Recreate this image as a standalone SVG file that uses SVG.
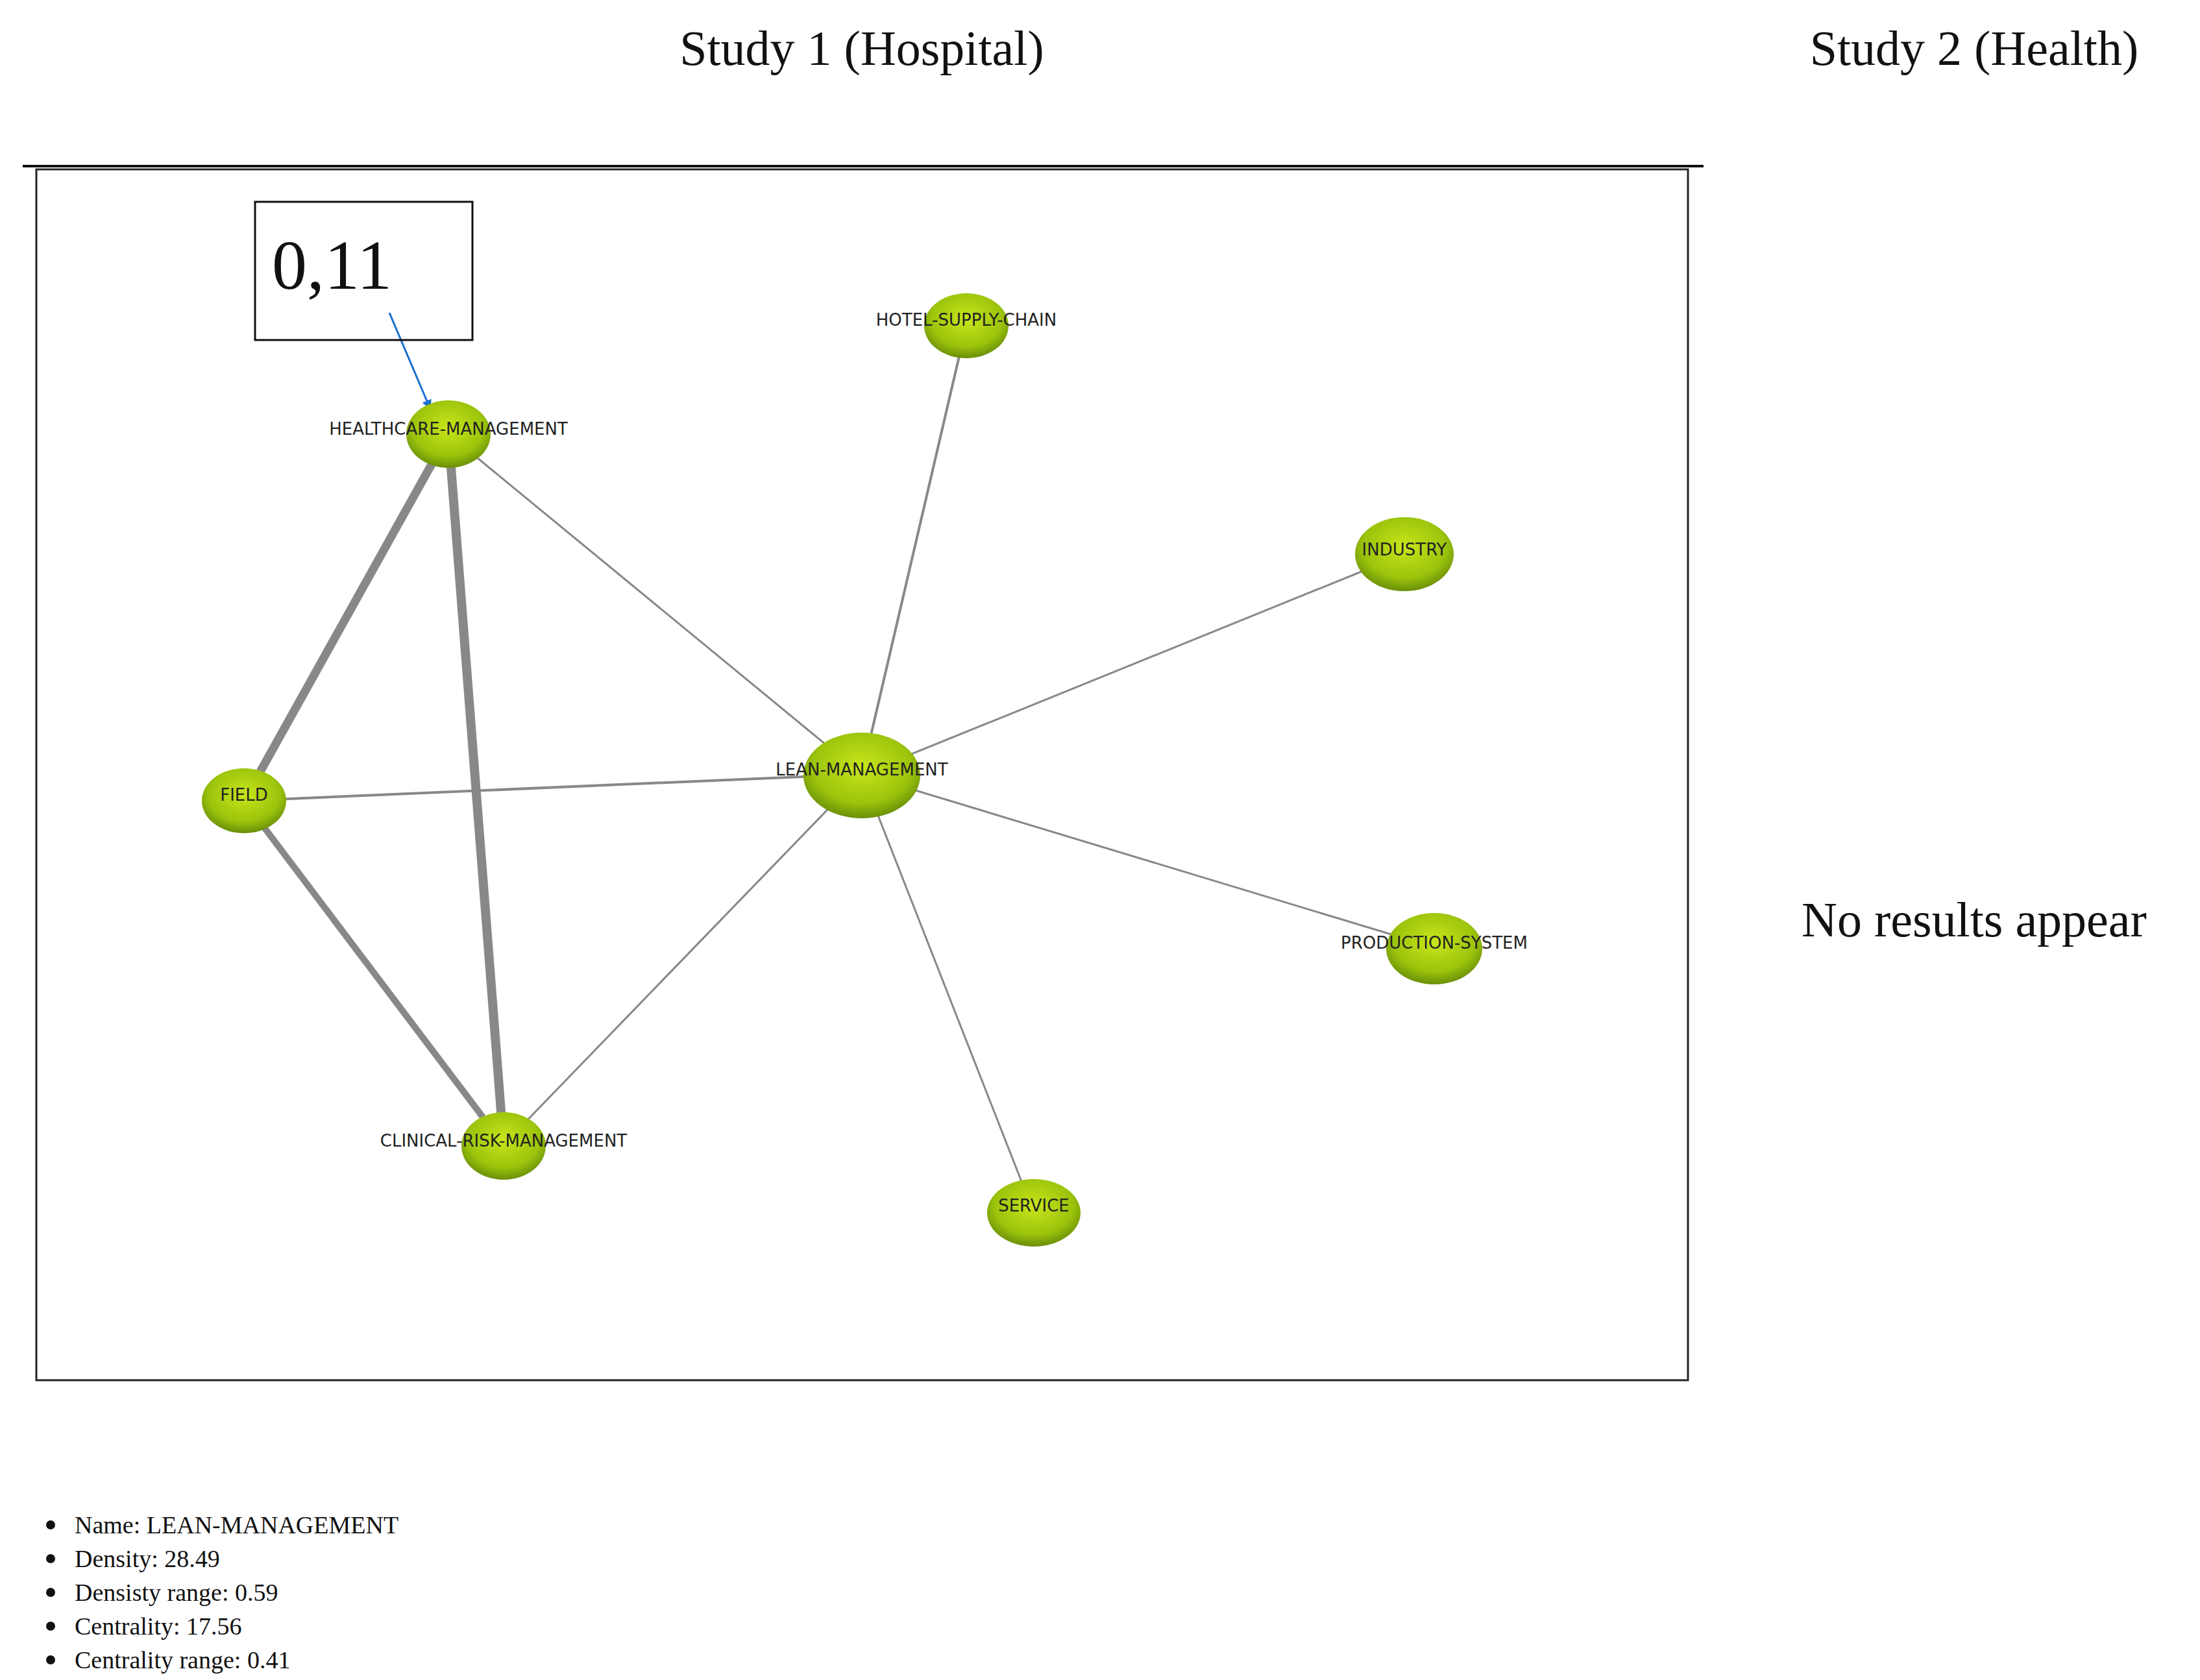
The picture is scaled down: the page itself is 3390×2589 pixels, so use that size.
<svg xmlns="http://www.w3.org/2000/svg" width="3390" height="2589" viewBox="0 0 3390 2589">
<defs>
<radialGradient id="g" cx="50%" cy="40%" r="60%">
<stop offset="0" stop-color="#c8e61a"/><stop offset="0.7" stop-color="#9cc40c"/><stop offset="1" stop-color="#6a8f08"/>
</radialGradient>
<marker id="ah" viewBox="0 0 10 10" refX="9" refY="5" markerWidth="5" markerHeight="5" orient="auto" markerUnits="strokeWidth"><path d="M0,0 L10,5 L0,10 z" fill="#1a6fd0"/></marker>
</defs>
<style>
.t{font-family:"Liberation Serif",serif;fill:#111}
.n{fill:url(#g)}
.l{font-family:"DejaVu Sans",sans-serif;font-size:26px;fill:#222;text-anchor:middle}
.e{stroke:#888;fill:none}
</style>
<rect width="3390" height="2589" fill="#fff"/>
<text class="t" x="1328" y="100" font-size="76" text-anchor="middle">Study 1 (Hospital)</text>
<text class="t" x="3042" y="100" font-size="76" text-anchor="middle">Study 2 (Health)</text>
<line x1="35" y1="256" x2="2625" y2="256" stroke="#111" stroke-width="4"/>
<rect x="56" y="261" width="2545" height="1866" fill="none" stroke="#222" stroke-width="3"/>
<text class="t" x="3042" y="1443" font-size="76" text-anchor="middle">No results appear</text>
<g id="connectors">
<line class="e" x1="691" y1="669" x2="376" y2="1234" stroke-width="13"/>
<line class="e" x1="691" y1="669" x2="776" y2="1764" stroke-width="14"/>
<line class="e" x1="376" y1="1234" x2="776" y2="1764" stroke-width="10"/>
<line class="e" x1="691" y1="669" x2="1328" y2="1193" stroke-width="3" stroke="#999"/>
<line class="e" x1="1489" y1="502" x2="1328" y2="1193" stroke-width="4" stroke="#999"/>
<line class="e" x1="2164" y1="854" x2="1328" y2="1193" stroke-width="3" stroke="#e4e4e4"/>
<line class="e" x1="376" y1="1234" x2="1328" y2="1193" stroke-width="4" stroke="#d4d4d4"/>
<line class="e" x1="2210" y1="1460" x2="1328" y2="1193" stroke-width="3" stroke="#bbb"/>
<line class="e" x1="776" y1="1764" x2="1328" y2="1193" stroke-width="3" stroke="#ccc"/>
<line class="e" x1="1593" y1="1869" x2="1328" y2="1193" stroke-width="3" stroke="#ddd"/>
<line x1="600" y1="482" x2="663" y2="630" stroke="#1a6fd0" stroke-width="3" marker-end="url(#ah)"/>
</g>
<g id="label-box"><rect x="393" y="311" width="335" height="213" fill="none" stroke="#111" stroke-width="3"/><text class="t" x="419" y="445" font-size="108">0,11</text></g>
<g id="n-healthcare"><ellipse class="n" cx="691" cy="669" rx="65" ry="52"/><text class="l" x="691" y="670">HEALTHCARE-MANAGEMENT</text></g>
<g id="n-hotel"><ellipse class="n" cx="1489" cy="502" rx="65" ry="50"/><text class="l" x="1489" y="502">HOTEL-SUPPLY-CHAIN</text></g>
<g id="n-industry"><ellipse class="n" cx="2164" cy="854" rx="76" ry="57"/><text class="l" x="2164" y="856">INDUSTRY</text></g>
<g id="n-lean"><ellipse class="n" cx="1328" cy="1195" rx="90" ry="66"/><text class="l" x="1328" y="1195">LEAN-MANAGEMENT</text></g>
<g id="n-field"><ellipse class="n" cx="376" cy="1234" rx="65" ry="50"/><text class="l" x="376" y="1234">FIELD</text></g>
<g id="n-production"><ellipse class="n" cx="2210" cy="1462" rx="74" ry="55"/><text class="l" x="2210" y="1462">PRODUCTION-SYSTEM</text></g>
<g id="n-clinical"><ellipse class="n" cx="776" cy="1766" rx="65" ry="52"/><text class="l" x="776" y="1767">CLINICAL-RISK-MANAGEMENT</text></g>
<g id="n-service"><ellipse class="n" cx="1593" cy="1869" rx="72" ry="52"/><text class="l" x="1593" y="1867">SERVICE</text></g>
<g id="info" class="t" font-size="38">
<circle cx="78" cy="2350" r="7" fill="#111"/><text x="115" y="2363">Name: LEAN-MANAGEMENT</text>
<circle cx="78" cy="2402" r="7" fill="#111"/><text x="115" y="2415">Density: 28.49</text>
<circle cx="78" cy="2454" r="7" fill="#111"/><text x="115" y="2467">Densisty range: 0.59</text>
<circle cx="78" cy="2506" r="7" fill="#111"/><text x="115" y="2519">Centrality: 17.56</text>
<circle cx="78" cy="2558" r="7" fill="#111"/><text x="115" y="2571">Centrality range: 0.41</text>
</g>
</svg>
